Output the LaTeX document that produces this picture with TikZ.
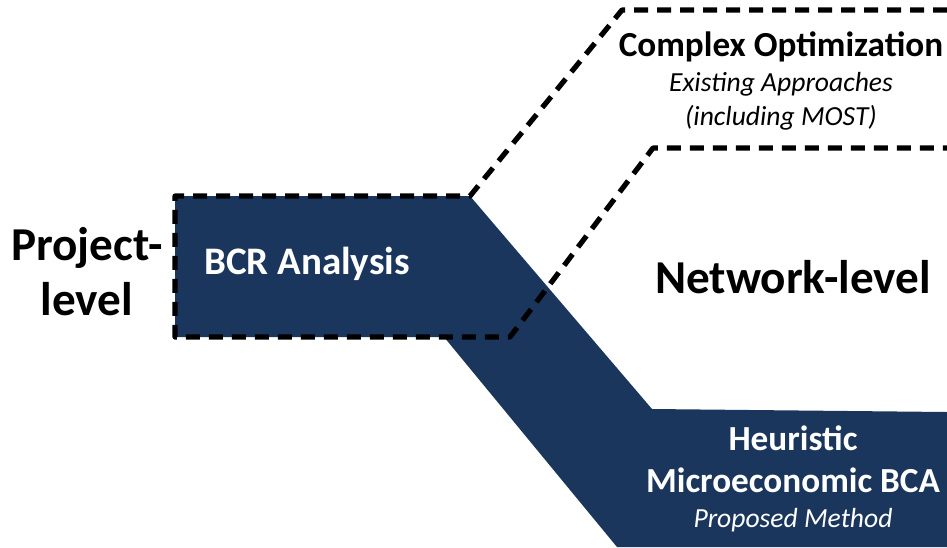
\documentclass[tikz,border=0pt]{standalone}
\usepackage{fontspec}
\setmainfont{Carlito}
\usetikzlibrary{positioning}
\definecolor{navy}{RGB}{27,54,93}

\begin{document}
\begin{tikzpicture}[x=0.5pt,y=-0.5pt,
    band/.style={fill=navy,draw=none},
    outline/.style={draw=black,line width=2.6pt,dash pattern=on 7pt off 4.5pt,line join=round},
    head/.style={font=\bfseries\fontsize{17.6}{20}\selectfont,anchor=base,inner sep=0pt},
    note/.style={font=\itshape\fontsize{13.8}{16}\selectfont,anchor=base,inner sep=0pt},
    big/.style={font=\bfseries\fontsize{23.6}{27.5}\selectfont,anchor=base,inner sep=0pt}]
    \useasboundingbox (0,0) rectangle (947,547);
    % project box and the lower band
    \coordinate (boxtl) at (175,196);
    \coordinate (boxbl) at (175,337);
    \fill[band] (boxtl) -- (470,196) -- (652,409) -- (947,412) -- (947,547)
        -- (617,547) -- (444,337) -- (boxbl) -- cycle;
    % dashed outline of the upper way
    \draw[outline] (947,10) -- (622,10) -- (470,196) -- (boxtl) -- (boxbl)
        -- (510,337) -- (653,148) -- (947,148);
    \node[big] (project) at (87,260) {Project-};
    \node[big] (level) at (87,315) {level};
    \node[head,white,font=\bfseries\fontsize{19.5}{22}\selectfont] (bcr) at (307,274) {BCR Analysis};
    \node[head] (complex) at (781,56) {Complex Optimization};
    \node[note] (existing) at (781,91) {Existing Approaches};
    \node[note] (most) at (781,125) {(including MOST)};
    \node[big] (network) at (793,293) {Network-level};
    \node[head,white] (heur) at (793,450) {Heuristic};
    \node[head,white] (micro) at (793,492) {Microeconomic BCA};
    \node[note,white] (proposed) at (793,527) {Proposed Method};
\end{tikzpicture}
\end{document}
